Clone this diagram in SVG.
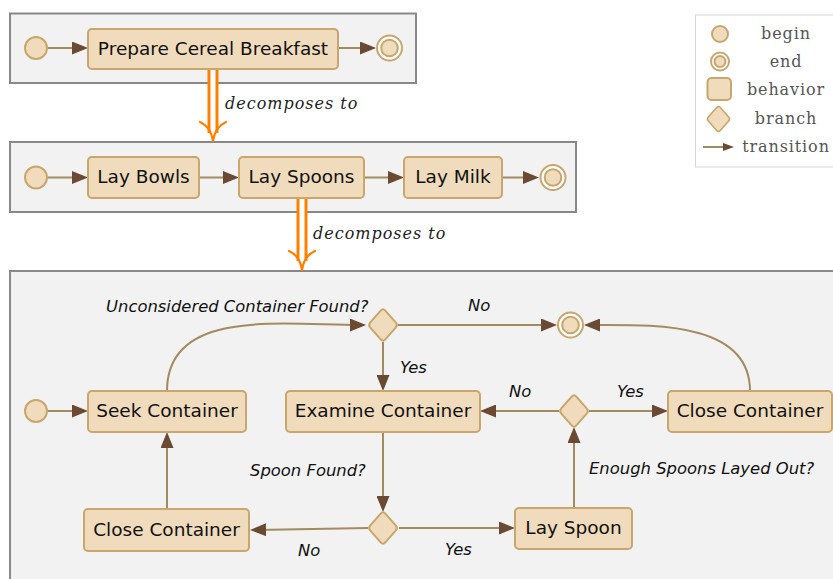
<svg xmlns="http://www.w3.org/2000/svg" xmlns:xlink="http://www.w3.org/1999/xlink" width="833" height="579" viewBox="0 0 833 579">
<style>
.frame{fill:#f2f2f2;stroke:#888888;stroke-width:2}
.node{fill:#f0dcbc;stroke:#c8a66c;stroke-width:2}
.endo{fill:#ffffff;stroke:#c8a66c;stroke-width:2}
.lbl{font-family:"DejaVu Sans",sans-serif;font-size:18.5px;fill:#111;text-anchor:middle}
.it{font-family:"DejaVu Sans",sans-serif;font-style:italic;font-size:16.4px;fill:#111}
.leg{font-family:"DejaVu Serif",serif;font-size:16px;fill:#555;text-anchor:middle;letter-spacing:0.9px}
.dec{font-family:"DejaVu Serif",serif;font-style:italic;font-size:16px;fill:#222;letter-spacing:1px}
.edge{fill:none;stroke:#a38b5f;stroke-width:2;marker-end:url(#ah)}
.or1{fill:none;stroke:#ff8000;stroke-width:11}
.or2{fill:none;stroke:#ffffff;stroke-width:5}
.orh{fill:none;stroke:#ff8000;stroke-width:2.2;stroke-linecap:round;stroke-linejoin:round}
</style>
<defs>
<marker id="ah" viewBox="0 0 16 13" refX="10" refY="6.5" markerWidth="16" markerHeight="13" markerUnits="userSpaceOnUse" orient="auto"><path d="M0,0 L16,6.5 L0,13 z" fill="#6b4a33"/></marker>
<marker id="ahs" viewBox="0 0 11 8" refX="5" refY="4" markerWidth="11" markerHeight="8" markerUnits="userSpaceOnUse" orient="auto"><path d="M0,0 L11,4 L0,8 z" fill="#6b4a33"/></marker>
<path id="dia" d="M-2.3,-14.4 Q0,-17 2.3,-14.4 L12.7,-2.6 Q15,0 12.7,2.6 L2.3,14.4 Q0,17 -2.3,14.4 L-12.7,2.6 Q-15,0 -12.7,-2.6 Z"/>
</defs>

<!-- frames -->
<rect class="frame" x="10" y="13.5" width="406" height="69.5"/>
<rect class="frame" x="10" y="142" width="566" height="70"/>
<rect class="frame" x="10" y="271" width="900" height="400"/>

<!-- legend -->
<g id="legend">
<rect x="695.5" y="15" width="160" height="152" fill="#ffffff" stroke="#d6d6d6" stroke-width="1"/>
<circle class="node" cx="720" cy="34" r="8"/>
<circle class="endo" cx="720" cy="61.5" r="9"/>
<circle class="node" cx="720" cy="61.5" r="5.5"/>
<rect class="node" x="707.5" y="78" width="23.5" height="22" rx="4"/>
<use xlink:href="#dia" class="node" transform="translate(718.5,119) scale(0.8)"/>
<path d="M703,147 H728" fill="none" stroke="#a38b5f" stroke-width="2" marker-end="url(#ahs)"/>
<text class="leg" x="786" y="39">begin</text>
<text class="leg" x="786" y="67">end</text>
<text class="leg" x="786" y="95">behavior</text>
<text class="leg" x="786" y="124">branch</text>
<text class="leg" x="786" y="152">transition</text>
</g>

<!-- decomposition arrows -->
<g id="decomp">
<path class="or1" d="M213,69.5 V133"/>
<path class="or2" d="M213,69 V135"/>
<path class="orh" d="M200,122 Q211,127 213,141 Q215,127 226,122"/>
<text class="dec" x="225" y="109">decomposes to</text>
<path class="or1" d="M302,198 V261"/>
<path class="or2" d="M302,197.5 V263"/>
<path class="orh" d="M289,251 Q300,256 302,270 Q304,256 315,251"/>
<text class="dec" x="313" y="239">decomposes to</text>
</g>

<!-- connectors -->
<g id="connectors">
<path class="edge" d="M47,48 H82"/>
<path class="edge" d="M338,48 H370"/>
<path class="edge" d="M47,177.5 H82"/>
<path class="edge" d="M199,177.5 H233"/>
<path class="edge" d="M364,177.5 H398"/>
<path class="edge" d="M502,177.5 H533"/>
<path class="edge" d="M47,411 H82"/>
<path class="edge" d="M167,391 C167,308 280,325 360,325"/>
<path class="edge" d="M398,325 H551"/>
<path class="edge" d="M750,391 C750,321 653,325 590,325"/>
<path class="edge" d="M383,342 V385"/>
<path class="edge" d="M383,432 V506"/>
<path class="edge" d="M368,528 L256,529.9"/>
<path class="edge" d="M399,528 H509"/>
<path class="edge" d="M167,509 V438"/>
<path class="edge" d="M574,508 V433"/>
<path class="edge" d="M559,411 H486"/>
<path class="edge" d="M589,411 H662"/>
</g>

<!-- frame 1 nodes -->
<g id="begin1"><circle class="node" cx="36" cy="48" r="11"/></g>
<g id="prepare"><rect class="node" x="88" y="29" width="250" height="40" rx="4"/><text class="lbl" x="213" y="54.5">Prepare Cereal Breakfast</text></g>
<g id="end1"><circle class="endo" cx="389.5" cy="48" r="12.5"/><circle class="node" cx="389.5" cy="48" r="8.3"/></g>

<!-- frame 2 nodes -->
<g id="begin2"><circle class="node" cx="36" cy="177.5" r="11"/></g>
<g id="laybowls"><rect class="node" x="88" y="157" width="111" height="41" rx="4"/><text class="lbl" x="143.5" y="183">Lay Bowls</text></g>
<g id="layspoons"><rect class="node" x="239" y="157" width="125" height="41" rx="4"/><text class="lbl" x="301.5" y="183">Lay Spoons</text></g>
<g id="laymilk"><rect class="node" x="404" y="157" width="98" height="41" rx="4"/><text class="lbl" x="453" y="183">Lay Milk</text></g>
<g id="end2"><circle class="endo" cx="553" cy="177.5" r="12.5"/><circle class="node" cx="553" cy="177.5" r="8.3"/></g>

<!-- frame 3 nodes -->
<g id="begin3"><circle class="node" cx="36" cy="411" r="11"/></g>
<g id="seek"><rect class="node" x="88" y="391" width="158" height="41" rx="4"/><text class="lbl" x="167" y="416.7">Seek Container</text></g>
<g id="examine"><rect class="node" x="286" y="391" width="194" height="41" rx="4"/><text class="lbl" x="383" y="416.7">Examine Container</text></g>
<g id="closeR"><rect class="node" x="668" y="391" width="164" height="41" rx="4"/><text class="lbl" x="750" y="416.7">Close Container</text></g>
<g id="closeL"><rect class="node" x="84" y="509" width="165" height="42" rx="4"/><text class="lbl" x="166.5" y="535.5">Close Container</text></g>
<g id="layspoon"><rect class="node" x="515" y="508" width="117" height="41" rx="4"/><text class="lbl" x="573.5" y="534">Lay Spoon</text></g>
<g id="d1"><use xlink:href="#dia" class="node" transform="translate(383,325)"/></g>
<g id="d2"><use xlink:href="#dia" class="node" transform="translate(574,411)"/></g>
<g id="d3"><use xlink:href="#dia" class="node" transform="translate(383,528)"/></g>
<g id="end3"><circle class="endo" cx="570.5" cy="325" r="12.5"/><circle class="node" cx="570.5" cy="325" r="8.3"/></g>

<!-- labels -->
<g id="labels">
<text class="it" x="106" y="312">Unconsidered Container Found?</text>
<text class="it" x="468" y="311">No</text>
<text class="it" x="400" y="373">Yes</text>
<text class="it" x="509" y="397">No</text>
<text class="it" x="617" y="397">Yes</text>
<text class="it" x="250" y="476">Spoon Found?</text>
<text class="it" x="298" y="556">No</text>
<text class="it" x="445" y="555">Yes</text>
<text class="it" x="589" y="474">Enough Spoons Layed Out?</text>
</g>
</svg>
